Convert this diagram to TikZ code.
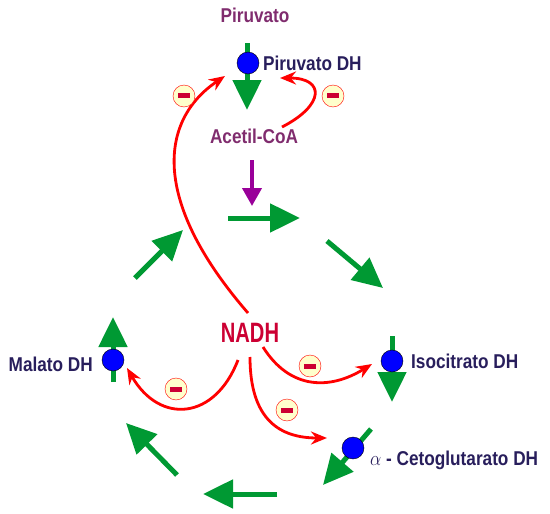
\documentclass[tikz,border=0pt]{standalone}
\usepackage{fontspec}
\setmainfont{Liberation Sans}
\usepackage{graphicx}
\usetikzlibrary{arrows.meta}

\definecolor{fluxgreen}{RGB}{0,153,51}
\definecolor{feedpurple}{RGB}{153,0,153}
\definecolor{metabpurple}{RGB}{128,44,110}
\definecolor{enzblue}{RGB}{40,30,92}
\definecolor{nadhred}{RGB}{204,0,51}
\definecolor{minusfill}{RGB}{255,255,204}
\definecolor{minusbar}{RGB}{204,0,51}

\newcommand{\narrowtxt}[2][0.86]{\scalebox{#1}[1]{#2}}

\begin{document}
\begin{tikzpicture}[x=1pt, y=-1pt,
    flux/.style={fluxgreen, line width=5pt, -{Triangle[length=30pt,width=28pt]}},
    feed/.style={feedpurple, line width=4pt, -{Triangle[length=18pt,width=19pt]}},
    inhibit/.style={red, line width=2.8pt, -{Stealth[length=16pt,width=13pt]}},
    enzyme/.style={circle, draw=black, thin, fill=blue, minimum size=22pt, inner sep=0pt},
    minus/.style={circle, draw=red, thin, fill=minusfill, minimum size=22pt, inner sep=0pt},
    metab/.style={font=\fontsize{20}{22}\selectfont\bfseries, text=metabpurple, inner sep=0pt},
    enzname/.style={font=\fontsize{20}{22}\selectfont\bfseries, text=enzblue, inner sep=0pt},
  ]
  \useasboundingbox (0,0) rectangle (550,514);

  % ===== metabolites and NADH =====
  \node[metab] (pyr) at (255,15) {\narrowtxt{Piruvato}};
  \node[metab] (acoa) at (254,136) {\narrowtxt{Acetil-CoA}};
  \node[font=\fontsize{28}{30}\selectfont\bfseries, text=nadhred, inner sep=0pt] (nadh) at (250,333) {\narrowtxt[0.72]{NADH}};

  % ===== cycle flux =====
  \coordinate (pdh-a) at (247,43);   \coordinate (pdh-b) at (247,110);
  \coordinate (c1-a) at (228,218);   \coordinate (c1-b) at (300,218);
  \coordinate (c2-a) at (327,241);   \coordinate (c2-b) at (383,288);
  \coordinate (idh-a) at (392,336);  \coordinate (idh-b) at (392,402);
  \coordinate (kdh-a) at (371,429);  \coordinate (kdh-b) at (323,485);
  \coordinate (c3-a) at (277,494);   \coordinate (c3-b) at (203,494);
  \coordinate (c4-a) at (177,475);   \coordinate (c4-b) at (126,423);
  \coordinate (mdh-a) at (113,382);  \coordinate (mdh-b) at (113,317);
  \coordinate (c5-a) at (135,278);   \coordinate (c5-b) at (183,230);
  \foreach \s in {pdh,c1,c2,idh,kdh,c3,c4,mdh,c5}
    \draw[flux] (\s-a) -- (\s-b);

  % acetyl-CoA feeding the cycle
  \coordinate (feed-a) at (252,160);
  \coordinate (feed-b) at (252,206);
  \draw[feed] (feed-a) -- (feed-b);

  % ===== enzymes =====
  \node[enzyme] (pdh) at (248,63) {};
  \node[enzname, anchor=west] (pdh-l) at (263,63) {\narrowtxt{Piruvato DH}};
  \node[enzyme] (idh) at (392,361) {};
  \node[enzname, anchor=west] (idh-l) at (411,361) {\narrowtxt{Isocitrato DH}};
  \node[enzyme] (kdh) at (353,448) {};
  \node[enzname, anchor=west] (kdh-l) at (370,460) {\narrowtxt{$\alpha$ - Cetoglutarato DH}};
  \node[enzyme] (mdh) at (113,360) {};
  \node[enzname, anchor=east] (mdh-l) at (93,364) {\narrowtxt{Malato DH}};

  % ===== inhibition =====
  \coordinate (nadh-1) at (248,313);  \coordinate (pdh-in) at (225,76);
  \coordinate (acoa-1) at (282,127);  \coordinate (pdh-in2) at (280,78);
  \coordinate (nadh-2) at (238,360);  \coordinate (mdh-in) at (127,368);
  \coordinate (nadh-3) at (263,347);  \coordinate (idh-in) at (372,364);
  \coordinate (nadh-4) at (250,357);  \coordinate (kdh-in) at (327,438);

  \draw[inhibit] (nadh-1) .. controls (150,200) and (160,120) .. (pdh-in);
  \draw[inhibit] (acoa-1) .. controls (325,105) and (325,78) .. (pdh-in2);
  \draw[inhibit] (nadh-2) .. controls (215,420) and (160,425) .. (mdh-in);
  \draw[inhibit] (nadh-3) .. controls (290,390) and (330,390) .. (idh-in);
  \draw[inhibit] (nadh-4) .. controls (250,420) and (280,438) .. (kdh-in);

  \node[minus] (m1) at (184,96) {\textcolor{minusbar}{\rule{12pt}{5pt}}};
  \node[minus] (m2) at (333,96) {\textcolor{minusbar}{\rule{12pt}{5pt}}};
  \node[minus] (m3) at (176,389) {\textcolor{minusbar}{\rule{12pt}{5pt}}};
  \node[minus] (m4) at (310,366) {\textcolor{minusbar}{\rule{12pt}{5pt}}};
  \node[minus] (m5) at (287,410) {\textcolor{minusbar}{\rule{12pt}{5pt}}};
\end{tikzpicture}
\end{document}
